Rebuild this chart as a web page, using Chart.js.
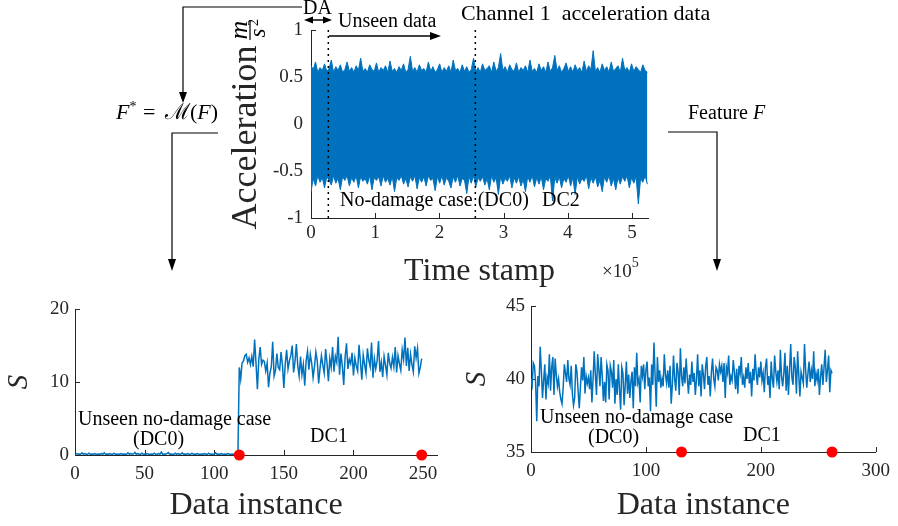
<!DOCTYPE html>
<html>
<head>
<meta charset="utf-8">
<script src="https://cdn.jsdelivr.net/npm/chart.js@4"></script>
<style>
  body { margin: 0; background: #fff; width: 898px; height: 526px; position: relative; overflow: hidden; }
  canvas { position: absolute; }
  svg { position: absolute; left: 0; top: 0; }
</style>
</head>
<body>
<canvas id="accChart" width="445" height="281" style="left:225px;top:10px"></canvas>
<canvas id="leftChart" width="448" height="236" style="left:2px;top:289px"></canvas>
<canvas id="rightChart" width="438" height="239" style="left:460px;top:286px"></canvas>

<svg width="898" height="526" font-family="Liberation Serif" font-size="20" fill="#000">
  <!-- DA window + link to F* -->
  <text x="303" y="14">DA</text>
  <line x1="309" y1="20" x2="327" y2="20" stroke="#000" stroke-width="1.5"/>
  <polygon points="304,20 313,16.5 313,23.5"/>
  <polygon points="332,20 323,16.5 323,23.5"/>
  <polyline points="302,7 183,7 183,94" fill="none" stroke="#000" stroke-width="1.2"/>
  <polygon points="183,103 179,92 187,92"/>

  <text x="338" y="27">Unseen data</text>
  <line x1="329" y1="36" x2="432" y2="36" stroke="#000" stroke-width="1.5"/>
  <polygon points="441,36 430,32 430,40"/>

  <text x="461" y="20" font-size="22" style="white-space:pre">Channel 1  acceleration data</text>

  <!-- m / s^2 unit, rotated like the axis title -->
  <g transform="translate(250,30) rotate(-90)">
    <text x="0" y="-3" font-size="26" font-style="italic" text-anchor="middle">m</text>
    <line x1="-10" y1="0" x2="10" y2="0" stroke="#000" stroke-width="1.2"/>
    <text x="-3" y="15" font-size="23" font-style="italic" text-anchor="middle">s</text>
    <text x="4" y="8" font-size="14">2</text>
  </g>

  <text y="119" font-size="22">
    <tspan x="116" font-style="italic">F</tspan><tspan font-size="14" dy="-8">*</tspan>
    <tspan x="143" dy="8">=</tspan>
    <tspan x="165">ℳ(</tspan><tspan font-style="italic">F</tspan><tspan>)</tspan>
  </text>
  <polyline points="218,133 172,133 172,261" fill="none" stroke="#000" stroke-width="1.2"/>
  <polygon points="172,271 168,259 176,259"/>

  <text x="688" y="119">Feature <tspan font-style="italic">F</tspan></text>
  <polyline points="668,132 717,132 717,261" fill="none" stroke="#000" stroke-width="1.2"/>
  <polygon points="717,271 713,259 721,259"/>

  <text x="340" y="206">No-damage case (DC0)</text>
  <text x="542" y="206">DC2</text>
  <text x="602" y="277" font-size="19" fill="#262626">×10<tspan font-size="14" dy="-10">5</tspan></text>

  <text x="78" y="425">Unseen no-damage case</text>
  <text x="133" y="445">(DC0)</text>
  <text x="310" y="442">DC1</text>

  <text x="540" y="423">Unseen no-damage case</text>
  <text x="588" y="443">(DC0)</text>
  <text x="743" y="441">DC1</text>
</svg>

<script>
// --- top: channel 1 acceleration, upper / lower envelope of the raw signal ---
const accUpper = [
  0.62,0.58,0.66,0.55,0.60,0.57,0.64,0.56,0.59,0.68,0.55,0.61,0.57,0.63,0.55,0.58,0.66,0.56,0.60,0.55,
  0.62,0.57,0.70,0.56,0.59,0.55,0.63,0.58,0.56,0.65,0.55,0.60,0.57,0.62,0.55,0.67,0.56,0.59,0.55,0.61,
  0.57,0.64,0.55,0.58,0.72,0.56,0.60,0.55,0.63,0.57,0.59,0.55,0.66,0.56,0.61,0.55,0.58,0.64,0.55,0.60,
  0.56,0.62,0.55,0.68,0.57,0.59,0.55,0.63,0.56,0.61,0.55,0.58,0.70,0.56,0.60,0.55,0.64,0.57,0.59,0.62,
  0.55,0.66,0.56,0.60,0.75,0.57,0.61,0.55,0.63,0.58,0.56,0.65,0.55,0.60,0.57,0.62,0.55,0.68,0.56,0.59,
  0.55,0.64,0.57,0.61,0.55,0.66,0.56,0.60,0.73,0.57,0.62,0.55,0.59,0.65,0.56,0.61,0.55,0.63,0.57,0.60,
  0.55,0.67,0.56,0.62,0.58,0.78,0.56,0.60,0.55,0.64,0.57,0.61,0.55,0.66,0.56,0.59,0.62,0.55,0.70,0.57,
  0.60,0.55,0.64,0.56,0.61,0.58,0.55,0.63,0.57,0.55
];
const accLower = [
  -0.72,-0.58,-0.66,-0.55,-0.62,-0.57,-0.68,-0.56,-0.60,-0.65,-0.55,-0.63,-0.58,-0.70,-0.56,-0.60,-0.55,-0.66,-0.57,-0.62,
  -0.55,-0.68,-0.56,-0.61,-0.58,-0.64,-0.55,-0.70,-0.57,-0.60,-0.56,-0.66,-0.55,-0.62,-0.58,-0.65,-0.56,-0.72,-0.57,-0.60,
  -0.55,-0.64,-0.58,-0.67,-0.56,-0.61,-0.55,-0.69,-0.57,-0.62,-0.56,-0.66,-0.55,-0.60,-0.58,-0.71,-0.56,-0.63,-0.55,-0.65,
  -0.57,-0.61,-0.68,-0.56,-0.62,-0.55,-0.66,-0.58,-0.60,-0.74,-0.56,-0.63,-0.55,-0.67,-0.57,-0.61,-0.56,-0.65,-0.58,-0.70,
  -0.55,-0.62,-0.57,-0.75,-0.56,-0.64,-0.58,-0.61,-0.55,-0.68,-0.57,-0.63,-0.56,-0.66,-0.59,-0.72,-0.56,-0.62,-0.55,-0.67,
  -0.57,-0.64,-0.56,-0.70,-0.58,-0.61,-0.55,-0.82,-0.57,-0.63,-0.56,-0.68,-0.58,-0.62,-0.55,-0.66,-0.57,-0.75,-0.56,-0.64,
  -0.58,-0.61,-0.55,-0.69,-0.57,-0.63,-0.56,-0.67,-0.60,-0.72,-0.56,-0.62,-0.55,-0.66,-0.58,-0.70,-0.57,-0.64,-0.56,-0.61,
  -0.55,-0.68,-0.57,-0.63,-0.56,-0.85,-0.58,-0.62,-0.55,-0.64
];
const accEnd = 524000;     // last time stamp
const daEnd = 27000;       // end of the DA window
const dc2Start = 256000;   // DC0 -> DC2 boundary
const accXTicks = [0, 1, 2, 3, 4, 5];   // x 10^5
const accYTicks = [-1, -0.5, 0, 0.5, 1];

// --- bottom left: S over unseen DC0 then DC1 ---
const leftDC0 = [
  0.1,0.2,0.1,0.15,0.1,0.3,0.1,0.2,0.1,0.1,0.25,0.1,0.15,0.1,0.2,0.1,0.1,0.15,0.1,0.2,
  0.1,0.3,0.1,0.15,0.1,0.2,0.1,0.1,0.25,0.1,0.15,0.1,0.1,0.2,0.1,0.15,0.1,0.1,0.3,0.1,
  0.2,0.1,0.15,0.35,0.1,0.2,0.1,0.1,0.25,0.1,0.15,0.1,0.2,0.1,0.1,0.15,0.1,0.25,0.1,0.1,
  0.2,0.1,0.4,0.1,0.15,0.1,0.2,0.35,0.1,0.15,0.1,0.1,0.25,0.1,0.2,0.1,0.1,0.3,0.1,0.15,
  0.1,0.2,0.1,0.1,0.25,0.1,0.15,0.1,0.2,0.1,0.1,0.15,0.1,0.2,0.1,0.1,0.25,0.1,0.15,0.1,
  0.1,0.3,0.1,0.15,0.1,0.2,0.1,0.1,0.15,0.1,0.2,0.1,0.1,0.15,0.1,0.1,0.05,0.0
];
const leftDC1 = [
  12.0,10.4,12.6,12.9,13.6,13.8,12.7,13.3,12.4,13.5,12.1,15.8,12.6,9.0,13.1,14.8,12.4,13.0,12.8,11.5,
  12.6,9.3,11.2,12.1,15.5,10.8,11.6,13.9,12.0,11.7,14.1,12.3,9.2,12.5,14.4,11.8,12.9,13.6,15.0,11.3,
  12.8,15.2,12.2,10.8,13.5,11.0,12.4,9.5,12.9,14.2,11.7,13.8,12.6,10.6,12.1,14.1,12.9,9.8,11.9,13.6,
  12.3,11.2,14.5,12.6,10.1,13.2,12.0,14.8,11.4,13.5,12.7,16.2,11.0,13.9,12.2,9.6,13.4,15.3,11.8,13.1,
  12.5,14.0,10.9,13.3,12.2,11.5,15.1,12.8,10.3,13.7,12.4,11.2,14.6,13.0,12.1,15.4,10.6,13.2,11.8,12.9,
  15.6,11.4,12.7,10.7,13.5,12.3,11.0,14.0,12.6,11.9,13.4,12.1,14.8,11.3,13.6,12.5,11.6,14.4,13.1,16.1,
  12.2,14.7,11.5,13.8,12.4,11.4,14.9,13.3,14.6,11.2,12.0,13.2
];
const leftMarks = [118, 249];
const leftXTicks = [0, 50, 100, 150, 200, 250];
const leftYTicks = [0, 10, 20];

// --- bottom right: S over all instances ---
const rightS = [
  40.0,39.6,41.1,40.9,39.8,37.1,40.2,39.5,42.2,40.6,38.7,39.9,41.0,38.6,40.1,39.7,41.7,39.2,40.8,41.5,
  38.9,41.4,40.3,39.5,40.0,39.1,38.6,38.3,39.4,41.0,40.4,39.8,41.3,40.0,39.6,40.9,39.0,38.2,38.7,41.0,
  40.5,39.2,38.0,39.4,40.8,39.9,41.5,39.0,40.2,39.7,40.1,39.3,40.6,38.4,40.0,41.9,40.3,38.9,41.7,40.7,
  39.5,41.5,40.2,38.5,39.8,38.4,41.0,40.6,38.6,40.9,40.5,39.4,41.3,38.3,40.0,38.9,41.0,39.3,37.9,40.8,
  40.4,38.2,39.6,41.2,39.0,40.3,38.7,39.9,40.5,38.0,40.8,39.5,41.8,39.7,40.0,38.4,40.9,40.2,41.0,39.3,
  40.6,41.2,39.5,40.1,37.8,41.0,39.6,42.5,40.2,38.1,41.5,39.8,40.6,39.4,40.0,39.5,41.7,40.3,39.7,40.6,
  39.4,40.9,38.3,39.6,41.6,40.0,39.2,41.1,40.5,38.9,42.1,40.2,39.5,40.8,39.7,41.4,40.1,39.0,40.3,39.6,
  41.2,39.8,40.4,38.9,40.0,41.7,39.5,40.6,38.8,41.0,40.3,39.3,40.9,41.5,39.6,40.2,38.8,40.5,41.4,40.0,
  39.5,40.8,40.6,39.9,41.0,40.5,40.9,39.8,41.1,38.7,40.8,40.4,41.6,39.6,40.2,39.9,41.3,40.5,39.3,40.7,
  39.0,40.9,40.4,41.5,39.6,40.1,39.4,40.8,40.0,41.1,39.7,40.5,38.8,40.7,39.9,41.7,40.4,39.6,40.8,40.1,
  41.2,39.9,40.4,39.1,40.8,41.4,39.6,40.2,38.7,41.2,40.0,39.4,41.6,40.5,39.8,40.6,39.3,42.0,40.2,39.5,
  40.4,41.8,39.2,40.9,38.9,40.6,42.4,40.1,39.6,41.5,40.8,39.0,41.9,40.3,38.8,40.5,40.1,39.7,42.4,40.6,
  39.4,40.4,41.2,39.8,40.6,40.0,41.9,39.5,40.4,39.9,40.7,38.9,40.2,41.0,39.6,40.8,42.0,39.8,40.6,41.6,39.1,40.6,40.4
];
const rightMarks = [131, 262];
const rightXTicks = [0, 100, 200, 300];
const rightYTicks = [35, 40, 45];

const FONT = 'Liberation Serif';
const INK = '#262626';
const BLUE = '#0072BD';

// MATLAB style ticks pointing into the axes
const inwardTicks = {
  id: 'inwardTicks',
  beforeDatasetsDraw(chart) {
    const { ctx, chartArea } = chart;
    const xs = chart.scales.x, ys = chart.scales.y;
    ctx.save();
    ctx.strokeStyle = INK;
    ctx.lineWidth = 1;
    ctx.beginPath();
    xs.ticks.forEach(t => {
      const px = Math.round(xs.getPixelForValue(t.value)) + 0.5;
      ctx.moveTo(px, chartArea.bottom);
      ctx.lineTo(px, chartArea.bottom - 5);
    });
    ys.ticks.forEach(t => {
      const py = Math.round(ys.getPixelForValue(t.value)) + 0.5;
      ctx.moveTo(chartArea.left, py);
      ctx.lineTo(chartArea.left + 5, py);
    });
    ctx.stroke();
    ctx.restore();
  }
};

function makeAxis(o) {
  const unit = o.unit || 1;
  return {
    type: 'linear',
    min: o.min,
    max: o.max,
    afterBuildTicks: s => { s.ticks = o.ticks.map(v => ({ value: v * unit })); },
    afterFit: s => {
      if (o.width) s.width = o.width;
      if (o.height) s.height = o.height;
    },
    ticks: {
      font: { family: FONT, size: 19 },
      color: INK,
      padding: o.pad,
      maxRotation: 0,
      autoSkip: false,
      callback: v => String(+(v / unit).toFixed(2))
    },
    grid: { display: false, drawTicks: false },
    border: { color: INK, width: 1 },
    title: {
      display: true,
      text: o.title,
      color: INK,
      padding: 0,
      font: { family: FONT, size: o.titleSize, style: o.italic ? 'italic' : 'normal' }
    }
  };
}

function baseOptions(padding, xAxis, yAxis) {
  return {
    responsive: false,
    animation: false,
    devicePixelRatio: 1,
    events: [],
    layout: { padding },
    plugins: { legend: { display: false }, tooltip: { enabled: false } },
    scales: { x: xAxis, y: yAxis }
  };
}

function marker(x, y0, y1) {
  return {
    data: [{ x, y: y0 }, { x, y: y1 }],
    borderColor: '#000', borderWidth: 1.5, borderDash: [2, 4],
    pointRadius: 0, fill: false
  };
}

// --- top chart ---
const accStep = accEnd / (accUpper.length - 1);
new Chart(document.getElementById('accChart'), {
  type: 'line',
  data: {
    datasets: [
      marker(daEnd, -1, 1),
      marker(dc2Start, -1, 1),
      {
        data: accUpper.map((y, i) => ({ x: i * accStep, y })),
        borderColor: BLUE, backgroundColor: BLUE, borderWidth: 1,
        pointRadius: 0, fill: '+1'
      },
      {
        data: accLower.map((y, i) => ({ x: i * accStep, y })),
        borderColor: BLUE, borderWidth: 1, pointRadius: 0, fill: false
      }
    ]
  },
  options: baseOptions(
    { top: 20, right: 22, left: 0, bottom: 0 },
    makeAxis({ min: 0, max: 525000, ticks: accXTicks, unit: 1e5, pad: 4, height: 73,
               title: 'Time stamp', titleSize: 32 }),
    // trailing spaces leave room for the m/s^2 fraction drawn above the word
    makeAxis({ min: -1, max: 1, ticks: accYTicks, pad: 8, width: 86,
               title: 'Acceleration   ', titleSize: 36 })
  ),
  plugins: [inwardTicks]
});

// --- bottom left ---
const leftData = leftDC0.map((y, i) => ({ x: i, y }))
  .concat(leftDC1.map((y, i) => ({ x: leftDC0.length + i, y })));
new Chart(document.getElementById('leftChart'), {
  type: 'line',
  data: {
    datasets: [
      {
        type: 'scatter',
        data: leftMarks.map(x => ({ x, y: 0 })),
        pointRadius: 5.5, pointBackgroundColor: '#ff0000', pointBorderWidth: 0,
        showLine: false, clip: false
      },
      {
        data: leftData,
        borderColor: BLUE, borderWidth: 1.5, pointRadius: 0, fill: false
      }
    ]
  },
  options: baseOptions(
    { top: 20, right: 13, left: 0, bottom: 0 },
    makeAxis({ min: 0, max: 260, ticks: leftXTicks, pad: 8, height: 70,
               title: 'Data instance', titleSize: 32 }),
    makeAxis({ min: 0, max: 20, ticks: leftYTicks, pad: 6, width: 73,
               title: 'S', titleSize: 29, italic: true })
  ),
  plugins: [inwardTicks]
});

// --- bottom right ---
new Chart(document.getElementById('rightChart'), {
  type: 'line',
  data: {
    datasets: [
      {
        type: 'scatter',
        data: rightMarks.map(x => ({ x, y: 35 })),
        pointRadius: 5.5, pointBackgroundColor: '#ff0000', pointBorderWidth: 0,
        showLine: false, clip: false
      },
      {
        data: rightS.map((y, i) => ({ x: i, y })),
        borderColor: BLUE, borderWidth: 1.5, pointRadius: 0, fill: false
      }
    ]
  },
  options: baseOptions(
    { top: 20, right: 18, left: 0, bottom: 0 },
    makeAxis({ min: 0, max: 300, ticks: rightXTicks, pad: 8, height: 73,
               title: 'Data instance', titleSize: 32 }),
    makeAxis({ min: 35, max: 45, ticks: rightYTicks, pad: 6, width: 71,
               title: 'S', titleSize: 29, italic: true })
  ),
  plugins: [inwardTicks]
});
</script>
</body>
</html>
